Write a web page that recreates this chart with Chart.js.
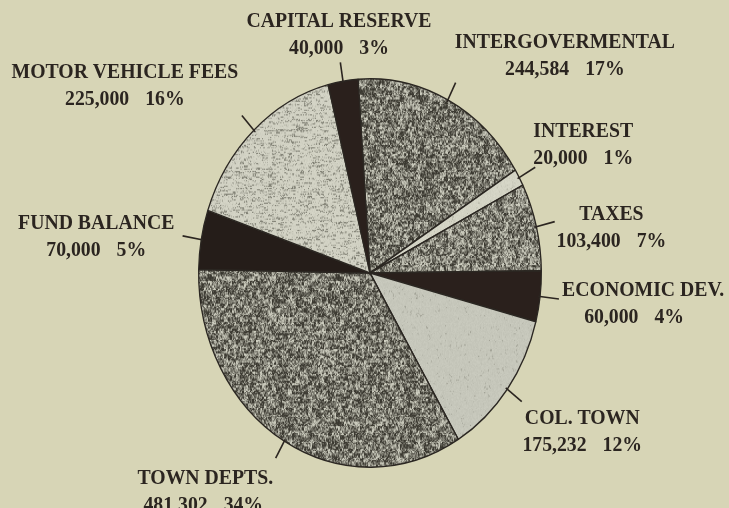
<!DOCTYPE html>
<html>
<head>
<meta charset="utf-8">
<script src="https://cdn.jsdelivr.net/npm/chart.js@4.4.1/dist/chart.umd.min.js"></script>
<style>
html,body{margin:0;padding:0;background:#d7d5b6;overflow:hidden}
#wrap{width:729px;height:508px;position:relative}
canvas{display:block}
</style>
</head>
<body>
<div id="wrap"><canvas id="c" width="729" height="508"></canvas></div>
<script>
// ---- data ----
const categories = ['INTERGOVERMENTAL','INTEREST','TAXES','ECONOMIC DEV.','COL. TOWN','TOWN DEPTS.','FUND BALANCE','MOTOR VEHICLE FEES','CAPITAL RESERVE'];
const amounts = [244584, 20000, 103400, 60000, 175232, 481302, 70000, 225000, 40000];
const amountLabels = ['244,584','20,000','103,400','60,000','175,232','481,302','70,000','225,000','40,000'];
const percentLabels = ['17%','1%','7%','4%','12%','34%','5%','16%','3%'];

// ---- styling ----
const BG = '#d7d5b6';
const INK = '#2b2520';
const Y_STRETCH = 195 / 172;   // the pie is drawn as a slightly tall ellipse
const FONT = 'bold 21px "Liberation Serif", "DejaVu Serif", serif';
const CONDENSE = 0.94;

function hash(x, y, s) {
  let h = (Math.imul(x, 374761393) + Math.imul(y, 668265263) + Math.imul(s, 1442695041)) | 0;
  h = Math.imul(h ^ (h >>> 13), 1274126177);
  h = h ^ (h >>> 16);
  return (h >>> 0) / 4294967296;
}
// speckled print texture: o.center sets how much dark ink, o.k the contrast
function texture(o) {
  const S = 128;
  const cv = document.createElement('canvas');
  cv.width = cv.height = S;
  const g = cv.getContext('2d');
  const img = g.createImageData(S, S);
  for (let y = 0; y < S; y++) {
    for (let x = 0; x < S; x++) {
      let v;
      if (o.streak) v = 0.6 * hash(x >> 2, y, o.seed) + 0.4 * hash(x, y, o.seed + 7);
      else v = 0.4 * hash(x, y, o.seed) + 0.35 * hash(x >> 1, y >> 1, o.seed + 3) + 0.25 * hash(x >> 2, y >> 2, o.seed + 5);
      let t = (v - o.center) * o.k + 0.5;
      t = Math.max(0, Math.min(1, t));
      const j = (hash(x, y, o.seed + 11) - 0.5) * (o.jit || 8);
      const i = (y * S + x) * 4;
      for (let ch = 0; ch < 3; ch++) {
        img.data[i + ch] = Math.max(0, Math.min(255, o.dark[ch] + (o.light[ch] - o.dark[ch]) * t + j));
      }
      img.data[i + 3] = 255;
    }
  }
  g.putImageData(img, 0, 0);
  return g.createPattern(cv, 'repeat');
}
const DARK = [60, 58, 50], LIGHT = [204, 204, 190];
const fills = [
  texture({light:LIGHT, dark:DARK, center:0.54, k:2.1, seed:1}),                 // intergovernmental
  texture({light:[212,212,197], dark:[150,150,136], center:0.1, k:3, seed:2}),    // interest
  texture({light:LIGHT, dark:DARK, center:0.5, k:2.1, seed:3}),                  // taxes
  '#2a201c',                                                                     // economic dev
  texture({light:[198,199,187], dark:[130,130,118], center:0.08, k:3, seed:4}),  // col town
  texture({light:LIGHT, dark:DARK, center:0.54, k:2.1, seed:5}),                 // town depts
  '#251d19',                                                                     // fund balance
  texture({light:[210,210,196], dark:[130,130,118], center:0.28, k:3.5, seed:6, streak:true}), // motor vehicle
  '#2a201c'                                                                      // capital reserve
];

// label placement relative to the point on the rim at each slice's middle
const labelOffsets = [[117,-52],[64,-41],[75,-7],[103,0],[75,35],[-79,43],[-105,-11],[-129,-52],[-4,-54]];
const line2Shift = [0,0,0,-9,0,-2,0,0,0];

const ellipsePlugin = {
  id: 'ellipse',
  beforeDraw(chart) {
    const c = chart.ctx;
    c.save(); c.fillStyle = BG; c.fillRect(0, 0, chart.width, chart.height); c.restore();
  },
  beforeDatasetsDraw(chart) {
    const a = chart.getDatasetMeta(0).data[0];
    const c = chart.ctx;
    c.save();
    c.translate(a.x, a.y); c.scale(1, Y_STRETCH); c.translate(-a.x, -a.y);
  },
  afterDatasetsDraw(chart) { chart.ctx.restore(); }
};

const labelPlugin = {
  id: 'labels',
  afterDraw(chart) {
    const c = chart.ctx;
    const arcs = chart.getDatasetMeta(0).data;
    c.save();
    c.font = FONT;
    c.fillStyle = INK;
    c.strokeStyle = INK;
    c.lineWidth = 1.6;
    arcs.forEach((arc, i) => {
      const p = arc.getProps(['x','y','startAngle','endAngle','outerRadius'], true);
      const mid = (p.startAngle + p.endAngle) / 2;
      const ix = p.x + p.outerRadius * Math.cos(mid);
      const iy = p.y + p.outerRadius * Y_STRETCH * Math.sin(mid);
      let dx = Math.cos(mid), dy = Math.sin(mid) * Y_STRETCH;
      const L = Math.hypot(dx, dy); dx /= L; dy /= L;
      c.beginPath();
      c.moveTo(ix - dx * 2, iy - dy * 2);
      c.lineTo(ix + dx * 19, iy + dy * 19);
      c.stroke();

      const lx = ix + labelOffsets[i][0];
      const ly = iy + labelOffsets[i][1];
      // line 1: category
      c.save();
      c.translate(lx, ly); c.scale(CONDENSE, 1);
      c.textAlign = 'center'; c.textBaseline = 'alphabetic';
      c.fillText(categories[i], 0, 0);
      c.restore();
      // line 2: amount + percent
      c.save();
      c.translate(lx + line2Shift[i], ly + 27); c.scale(CONDENSE, 1);
      c.textAlign = 'left'; c.textBaseline = 'alphabetic';
      const gap = 16 / CONDENSE;
      const w1 = c.measureText(amountLabels[i]).width;
      const w2 = c.measureText(percentLabels[i]).width;
      const x0 = -(w1 + gap + w2) / 2;
      c.fillText(amountLabels[i], x0, 0);
      c.fillText(percentLabels[i], x0 + w1 + gap, 0);
      c.restore();
    });
    c.restore();
  }
};

new Chart(document.getElementById('c').getContext('2d'), {
  type: 'pie',
  data: {
    labels: categories,
    datasets: [{
      data: amounts,
      backgroundColor: fills,
      borderColor: '#2b2722',
      borderWidth: 1.3,
      clip: false
    }]
  },
  options: {
    responsive: false,
    animation: false,
    events: [],
    rotation: -4,
    layout: { padding: { left: 198, right: 187, top: 101, bottom: 63 } },
    plugins: { legend: { display: false }, tooltip: { enabled: false } }
  },
  plugins: [ellipsePlugin, labelPlugin]
});
</script>
</body>
</html>
